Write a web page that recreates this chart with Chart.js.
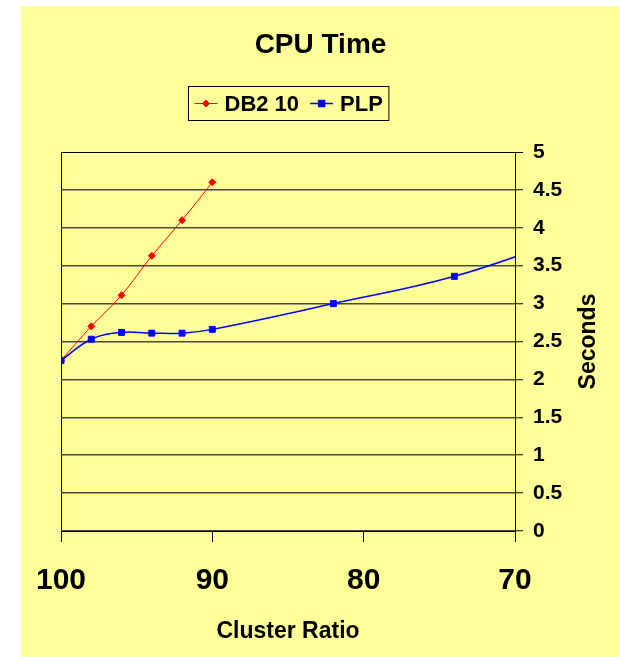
<!DOCTYPE html>
<html>
<head>
<meta charset="utf-8">
<script src="https://cdn.jsdelivr.net/npm/chart.js@4.4.0/dist/chart.umd.min.js"></script>
<style>
  html, body { margin: 0; padding: 0; background: #fff; }
  #wrap { position: absolute; left: 21px; top: 6px; width: 599px; height: 651px; background: #ffff99; }
</style>
</head>
<body>
<div id="wrap"><canvas id="cpuChart" width="599" height="651"></canvas></div>
<script>
const chartTitle = "CPU Time";
const xTitle = "Cluster Ratio";
const yTitle = "Seconds";

// DB2 10 run
const db2Ratio = [100, 98, 96, 94, 92, 90];
const db2Seconds = [2.25, 2.70, 3.11, 3.63, 4.10, 4.60];

// PLP run (last sample sits past the 70 end of the axis)
const plpRatio = [100, 98, 96, 94, 92, 90, 82, 74, 66];
const plpSeconds = [2.25, 2.53, 2.62, 2.61, 2.61, 2.66, 3.00, 3.36, 3.90];

const FONT = '"Liberation Sans", Arial, sans-serif';
Chart.defaults.font.family = FONT;
Chart.defaults.color = "#000";

const toPoints = (xs, ys) => xs.map((x, i) => ({ x: x, y: ys[i] }));

// title, boxed legend and the rotated right-hand axis title
const headerPlugin = {
  id: "header",
  afterDraw(chart) {
    const { ctx, chartArea } = chart;
    const midX = (chartArea.left + chartArea.right) / 2;
    ctx.save();
    ctx.fillStyle = "#000";
    ctx.textBaseline = "middle";

    ctx.textAlign = "center";
    ctx.font = "bold 28px " + FONT;
    ctx.fillText(chartTitle, chart.width / 2, 39);

    // legend
    ctx.font = "bold 22px " + FONT;
    ctx.textAlign = "left";
    const sets = chart.data.datasets;
    const sample = 23, gap = 7, between = 11, padL = 6, padR = 6;
    let total = padL + padR;
    sets.forEach((ds, i) => {
      total += sample + gap + ctx.measureText(ds.label).width;
      if (i < sets.length - 1) total += between;
    });
    const boxTop = 80.5, boxH = 34, cy = boxTop + boxH / 2;
    let x = Math.round(midX - total / 2) + 0.5;
    ctx.strokeStyle = "#000";
    ctx.lineWidth = 1;
    ctx.strokeRect(x, boxTop, total, boxH);
    x += padL;
    sets.forEach((ds) => {
      ctx.strokeStyle = ds.borderColor;
      ctx.fillStyle = ds.backgroundColor;
      ctx.lineWidth = ds.borderWidth;
      ctx.beginPath();
      ctx.moveTo(x, cy);
      ctx.lineTo(x + sample, cy);
      ctx.stroke();
      Chart.helpers.drawPoint(ctx, {
        pointStyle: ds.pointStyle, radius: ds.pointRadius, rotation: 0, borderWidth: 1
      }, x + sample / 2, cy);
      x += sample + gap;
      ctx.fillStyle = "#000";
      ctx.fillText(ds.label, x, cy + 1);
      x += ctx.measureText(ds.label).width + between;
    });

    // axis title on the right, reading upwards
    ctx.font = "bold 23px " + FONT;
    ctx.textAlign = "center";
    ctx.translate(chartArea.right + 74, (chartArea.top + chartArea.bottom) / 2);
    ctx.rotate(-Math.PI / 2);
    ctx.fillText(yTitle, 0, 0);
    ctx.restore();
  }
};

new Chart(document.getElementById("cpuChart"), {
  type: "line",
  data: {
    datasets: [
      {
        label: "DB2 10",
        data: toPoints(db2Ratio, db2Seconds),
        borderColor: "#ff0000",
        backgroundColor: "#ff0000",
        borderWidth: 1,
        pointStyle: "rectRot",
        pointRadius: 3.5,
        pointBorderWidth: 1,
        tension: 0.3,
        order: 1,
      },
      {
        label: "PLP",
        data: toPoints(plpRatio, plpSeconds),
        borderColor: "#0000ff",
        backgroundColor: "#0000ff",
        borderWidth: 1.5,
        pointStyle: "rect",
        pointRadius: 4.2,
        pointBorderWidth: 1,
        tension: 0.4,
        order: 0,
      },
    ],
  },
  options: {
    responsive: false,
    animation: false,
    layout: { padding: { left: 40, top: 146, right: 0, bottom: 0 } },
    plugins: {
      legend: { display: false },
      title: { display: false },
      tooltip: { enabled: false },
    },
    scales: {
      x: {
        type: "linear",
        reverse: true,
        min: 70,
        max: 100,
        afterFit: (s) => {
          s.height = 126;
          s.paddingLeft = 0;
          s.paddingRight = 0;
        },
        ticks: { stepSize: 10, padding: 21, maxRotation: 0, font: { size: 30, weight: "bold" }, color: "#000" },
        grid: {
          color: (c) => (c.tick && c.tick.value === 100 ? "#000" : "rgba(0,0,0,0)"),
          tickColor: "#000",
          tickLength: 11,
          tickWidth: 1,
          lineWidth: 1,
        },
        border: { color: "#000", width: 1 },
        title: {
          display: true,
          text: xTitle,
          color: "#000",
          font: { size: 23, weight: "bold" },
          padding: { top: 0, bottom: 12 },
        },
      },
      y: {
        position: "right",
        min: 0,
        max: 5,
        afterFit: (s) => {
          s.width = 105;
          s.paddingTop = 0;
          s.paddingBottom = 0;
        },
        ticks: {
          stepSize: 0.5,
          padding: 10,
          font: { size: 21, weight: "bold" },
          color: "#000",
          callback: (v) => String(v),
        },
        grid: {
          color: (c) => (c.tick && c.tick.value === 5 ? "#000" : "#48483e"),
          lineWidth: (c) => (c.tick && c.tick.value === 5 ? 1 : 1.5),
          tickColor: "#000",
          tickLength: 8,
          tickWidth: 1,
        },
        border: { color: "#000", width: 1 },
      },
    },
  },
  plugins: [headerPlugin],
});
</script>
</body>
</html>
